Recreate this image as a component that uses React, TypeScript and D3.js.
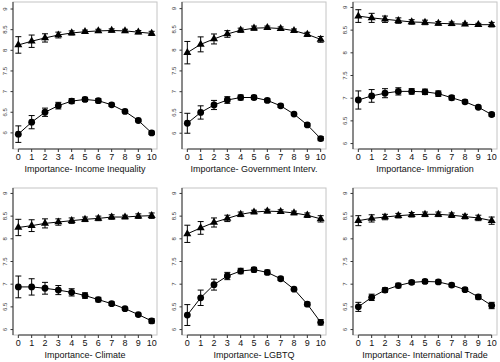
import * as d3 from 'd3';

// x positions: importance score 0..10
const scores = [0, 1, 2, 3, 4, 5, 6, 7, 8, 9, 10];
const yTicks = [6, 6.5, 7, 7.5, 8, 8.5, 9];

const titles = [
  'Importance- Income Inequality',
  'Importance- Government Interv.',
  'Importance- Immigration',
  'Importance-  Climate',
  'Importance- LGBTQ',
  'Importance- International Trade',
];

// upper series (triangles)
const upperMeans = [
  [8.13, 8.22, 8.3, 8.37, 8.42, 8.45, 8.47, 8.48, 8.47, 8.44, 8.41],
  [7.94, 8.14, 8.27, 8.39, 8.48, 8.53, 8.54, 8.52, 8.47, 8.38, 8.26],
  [8.81, 8.77, 8.74, 8.71, 8.68, 8.67, 8.65, 8.64, 8.63, 8.62, 8.62],
  [8.25, 8.29, 8.34, 8.37, 8.4, 8.43, 8.45, 8.48, 8.48, 8.5, 8.51],
  [8.11, 8.24, 8.36, 8.45, 8.54, 8.59, 8.61, 8.6, 8.57, 8.52, 8.44],
  [8.4, 8.45, 8.48, 8.51, 8.53, 8.54, 8.54, 8.52, 8.49, 8.46, 8.4],
];
const upperErr = [
  [0.2, 0.15, 0.1, 0.07, 0.05, 0.04, 0.04, 0.04, 0.04, 0.04, 0.05],
  [0.27, 0.18, 0.12, 0.08, 0.05, 0.05, 0.04, 0.04, 0.04, 0.05, 0.07],
  [0.14, 0.1, 0.07, 0.06, 0.05, 0.05, 0.04, 0.04, 0.03, 0.03, 0.05],
  [0.18, 0.13, 0.1, 0.07, 0.06, 0.05, 0.05, 0.05, 0.04, 0.05, 0.06],
  [0.19, 0.14, 0.1, 0.07, 0.05, 0.04, 0.04, 0.04, 0.04, 0.05, 0.07],
  [0.11, 0.08, 0.06, 0.05, 0.05, 0.05, 0.05, 0.05, 0.05, 0.06, 0.08],
];

// lower series (circles)
const lowerMeans = [
  [5.97, 6.26, 6.5, 6.66, 6.77, 6.81, 6.78, 6.68, 6.52, 6.3, 6.0],
  [6.24, 6.5, 6.68, 6.8, 6.86, 6.86, 6.79, 6.66, 6.46, 6.2, 5.87],
  [6.96, 7.05, 7.11, 7.15, 7.15, 7.14, 7.1, 7.01, 6.92, 6.8, 6.64],
  [6.94, 6.94, 6.91, 6.87, 6.82, 6.75, 6.66, 6.57, 6.46, 6.33, 6.19],
  [6.32, 6.7, 6.99, 7.18, 7.29, 7.32, 7.26, 7.12, 6.89, 6.56, 6.16],
  [6.5, 6.71, 6.87, 6.97, 7.04, 7.06, 7.05, 6.98, 6.88, 6.72, 6.53],
];
const lowerErr = [
  [0.2, 0.16, 0.1, 0.08, 0.06, 0.05, 0.05, 0.04, 0.03, 0.03, 0.04],
  [0.24, 0.16, 0.11, 0.08, 0.06, 0.05, 0.04, 0.04, 0.03, 0.03, 0.05],
  [0.2, 0.14, 0.1, 0.08, 0.06, 0.06, 0.06, 0.05, 0.04, 0.03, 0.04],
  [0.24, 0.18, 0.13, 0.1, 0.08, 0.06, 0.05, 0.04, 0.03, 0.03, 0.05],
  [0.23, 0.17, 0.12, 0.08, 0.06, 0.05, 0.05, 0.04, 0.03, 0.04, 0.06],
  [0.1, 0.07, 0.05, 0.05, 0.04, 0.04, 0.04, 0.04, 0.04, 0.05, 0.07],
];

// y limits per panel (first two panels have a wider range)
const yLimits = [
  [5.61, 9.17],
  [5.62, 9.16],
  [5.88, 9.12],
  [5.88, 9.12],
  [5.88, 9.12],
  [5.88, 9.12],
];

const W = 500;
const H = 362;
const colLeft = [13, 182, 353];
const rowTop = [2, 188];
const boxW = 144;
const boxH = 147;
const font = 'Liberation Sans, Arial, sans-serif';

const triangle = d3.symbol(d3.symbolTriangle, 28)() ?? '';

function Panel({ i }: { i: number }) {
  const left = colLeft[i % 3];
  const top = rowTop[Math.floor(i / 3)];
  const x = d3.scaleLinear().domain([-0.4, 10.4]).range([left, left + boxW]);
  const y = d3.scaleLinear().domain(yLimits[i]).range([top + boxH, top]);
  const line = d3
    .line<number>()
    .x((_, k) => x(scores[k]))
    .y((d) => y(d));
  const bottom = top + boxH;

  const errBars = (means: number[], errs: number[]) =>
    means.map((m, k) => {
      const cx = x(scores[k]);
      const y0 = y(m - errs[k]);
      const y1 = y(m + errs[k]);
      return (
        <g key={k} stroke='#000' strokeWidth={1}>
          <line x1={cx} x2={cx} y1={y0} y2={y1} />
          <line x1={cx - 3} x2={cx + 3} y1={y0} y2={y0} />
          <line x1={cx - 3} x2={cx + 3} y1={y1} y2={y1} />
        </g>
      );
    });

  return (
    <g>
      <rect
        x={left}
        y={top}
        width={boxW}
        height={boxH}
        fill='none'
        stroke='#c4c4c4'
        strokeWidth={1}
      />
      {/* y axis */}
      <line x1={left} x2={left} y1={top} y2={bottom} stroke='#333' />
      {yTicks.map((t) => (
        <g key={t}>
          <line x1={left - 2.5} x2={left} y1={y(t)} y2={y(t)} stroke='#333' />
          <text
            transform={`translate(${left - 8.5},${y(t)}) rotate(-90)`}
            textAnchor='middle'
            dy='0.35em'
            fontSize={6}
            fontFamily={font}
            fill='#333'
          >
            {t}
          </text>
        </g>
      ))}
      {/* x axis */}
      <line x1={x(0)} x2={x(10)} y1={bottom} y2={bottom} stroke='#333' />
      {scores.map((s) => (
        <g key={s}>
          <line x1={x(s)} x2={x(s)} y1={bottom} y2={bottom + 3} stroke='#333' />
          <text
            x={x(s)}
            y={bottom + 10.5}
            textAnchor='middle'
            fontSize={9}
            fontFamily={font}
            fill='#111'
          >
            {s}
          </text>
        </g>
      ))}
      <text
        x={left + boxW / 2}
        y={bottom + 23}
        textAnchor='middle'
        fontSize={9}
        fontFamily={font}
        fill='#111'
      >
        {titles[i]}
      </text>

      {errBars(upperMeans[i], upperErr[i])}
      {errBars(lowerMeans[i], lowerErr[i])}
      <path d={line(upperMeans[i]) ?? ''} fill='none' stroke='#000' strokeWidth={1} />
      <path d={line(lowerMeans[i]) ?? ''} fill='none' stroke='#000' strokeWidth={1} />
      {upperMeans[i].map((m, k) => (
        <path
          key={k}
          d={triangle}
          transform={`translate(${x(scores[k])},${y(m)})`}
          fill='#000'
        />
      ))}
      {lowerMeans[i].map((m, k) => (
        <circle key={k} cx={x(scores[k])} cy={y(m)} r={3.4} fill='#000' />
      ))}
    </g>
  );
}

export default function App() {
  return (
    <svg
      width={W}
      height={H}
      viewBox={`0 0 ${W} ${H}`}
      style={{ position: 'absolute', left: 0, top: 0, background: '#fff' }}
    >
      <rect width={W} height={H} fill='#fff' />
      {titles.map((_, i) => (
        <Panel key={i} i={i} />
      ))}
    </svg>
  );
}
